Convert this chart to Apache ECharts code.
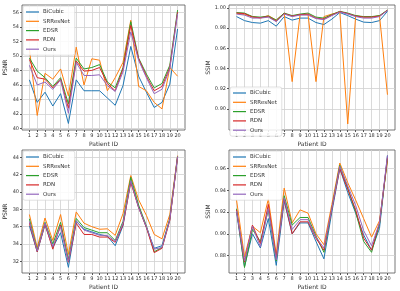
<!DOCTYPE html>
<html>
<head>
<meta charset="utf-8">
<script src="https://cdn.jsdelivr.net/npm/echarts@6/dist/echarts.min.js"></script>
<style>
  html, body { margin: 0; padding: 0; background: #fff; }
  #chart { width: 400px; height: 291px; }
</style>
</head>
<body>
<div id="chart"></div>
<script>
// 病人编号
const patients = [1, 2, 3, 4, 5, 6, 7, 8, 9, 10, 11, 12, 13, 14, 15, 16, 17, 18, 19, 20];
const methods = ['BiCubic', 'SRResNet', 'EDSR', 'RDN', 'Ours'];
const colors = ['#1f77b4', '#ff7f0e', '#2ca02c', '#d62728', '#9467bd'];

// 左上 PSNR
const psnrA_bicubic = [46.7, 43.6, 45.0, 43.1, 44.8, 40.7, 46.7, 45.2, 45.2, 45.2, 44.2, 43.2, 45.9, 51.3, 47.2, 45.0, 42.9, 43.6, 46.1, 53.7];
const psnrA_srresnet = [51.0, 41.8, 47.6, 46.8, 48.2, 44.5, 51.2, 46.0, 49.6, 49.4, 45.2, 47.0, 49.1, 54.9, 45.8, 45.2, 43.6, 42.7, 48.4, 47.2];
const psnrA_edsr = [49.7, 47.9, 47.0, 45.8, 47.0, 43.4, 49.7, 48.2, 48.4, 48.8, 46.4, 45.6, 48.4, 54.7, 49.7, 47.5, 45.6, 46.2, 48.7, 56.3];
const psnrA_rdn = [49.5, 47.0, 46.8, 45.6, 46.8, 42.8, 49.3, 47.9, 48.0, 48.4, 46.2, 45.2, 48.2, 54.2, 49.6, 47.2, 45.2, 45.8, 48.4, 56.0];
const psnrA_ours = [48.7, 46.0, 46.4, 45.4, 46.7, 42.1, 49.1, 47.3, 47.3, 47.4, 45.9, 45.1, 47.8, 53.3, 49.4, 47.0, 44.8, 45.4, 48.2, 55.8];

// 右上 SSIM
const ssimA_bicubic = [0.9915, 0.9875, 0.9856, 0.985, 0.9875, 0.982, 0.9915, 0.988, 0.990, 0.990, 0.9856, 0.9836, 0.989, 0.9955, 0.9925, 0.989, 0.986, 0.9856, 0.9875, 0.9967];
const ssimA_srresnet = [0.9948, 0.9935, 0.9915, 0.990, 0.9925, 0.988, 0.9948, 0.927, 0.9935, 0.9935, 0.927, 0.9915, 0.994, 0.996, 0.885, 0.9925, 0.991, 0.991, 0.9925, 0.914];
const ssimA_edsr = [0.9955, 0.995, 0.9915, 0.991, 0.992, 0.988, 0.995, 0.9925, 0.994, 0.995, 0.991, 0.990, 0.9935, 0.9967, 0.995, 0.9925, 0.9915, 0.9915, 0.9925, 0.998];
const ssimA_rdn = [0.995, 0.9945, 0.991, 0.9905, 0.9915, 0.987, 0.9945, 0.992, 0.9935, 0.994, 0.990, 0.989, 0.993, 0.9965, 0.9945, 0.992, 0.991, 0.991, 0.992, 0.9978];
const ssimA_ours = [0.994, 0.993, 0.990, 0.990, 0.991, 0.9865, 0.994, 0.9915, 0.993, 0.993, 0.9895, 0.9885, 0.9925, 0.996, 0.994, 0.9915, 0.990, 0.990, 0.9915, 0.9975];

// 左下 PSNR
const psnrB_bicubic = [36.1, 33.1, 36.2, 33.6, 35.3, 31.3, 36.6, 35.7, 35.4, 35.1, 34.9, 33.8, 36.1, 41.3, 38.3, 35.9, 33.5, 33.8, 36.9, 44.1];
const psnrB_srresnet = [37.4, 33.6, 37.0, 34.4, 37.4, 32.8, 37.7, 36.4, 36.0, 35.7, 35.75, 35.0, 37.5, 41.9, 39.1, 37.3, 35.1, 34.6, 37.4, 44.2];
const psnrB_edsr = [36.9, 33.3, 36.5, 34.0, 36.5, 32.2, 36.95, 35.9, 35.6, 35.3, 35.3, 34.4, 36.6, 41.7, 38.5, 36.1, 33.1, 33.6, 36.9, 44.1];
const psnrB_rdn = [36.4, 33.1, 36.3, 33.4, 36.2, 31.9, 36.4, 35.1, 35.1, 34.8, 34.8, 34.2, 36.2, 41.1, 38.2, 35.9, 33.0, 33.5, 36.7, 44.0];
const psnrB_ours = [36.6, 33.2, 36.4, 33.7, 36.0, 32.0, 36.7, 35.6, 35.3, 35.0, 35.0, 34.3, 36.4, 41.3, 38.2, 36.0, 33.4, 33.6, 36.8, 44.1];

// 右下 SSIM
const ssimB_bicubic = [0.920, 0.870, 0.900, 0.887, 0.914, 0.871, 0.930, 0.900, 0.910, 0.910, 0.893, 0.877, 0.920, 0.960, 0.938, 0.919, 0.899, 0.885, 0.905, 0.972];
const ssimB_srresnet = [0.931, 0.879, 0.907, 0.901, 0.932, 0.881, 0.942, 0.910, 0.922, 0.919, 0.900, 0.890, 0.927, 0.965, 0.947, 0.931, 0.914, 0.897, 0.912, 0.967];
const ssimB_edsr = [0.923, 0.869, 0.904, 0.893, 0.922, 0.875, 0.935, 0.908, 0.915, 0.915, 0.898, 0.883, 0.923, 0.963, 0.942, 0.920, 0.893, 0.883, 0.909, 0.969];
const ssimB_rdn = [0.922, 0.874, 0.908, 0.891, 0.927, 0.878, 0.932, 0.900, 0.911, 0.911, 0.896, 0.885, 0.923, 0.960, 0.941, 0.922, 0.896, 0.885, 0.910, 0.970];
const ssimB_ours = [0.921, 0.875, 0.907, 0.888, 0.923, 0.876, 0.933, 0.904, 0.913, 0.913, 0.897, 0.887, 0.923, 0.962, 0.944, 0.926, 0.903, 0.889, 0.910, 0.972];

// 刻度
const ticksPsnrA = [40, 42, 44, 46, 48, 50, 52, 54, 56];
const ticksSsimA = [0.90, 0.92, 0.94, 0.96, 0.98, 1.00];
const ticksPsnrB = [32, 34, 36, 38, 40, 42, 44];
const ticksSsimB = [0.88, 0.90, 0.92, 0.94, 0.96];

const panels = [
  { grid: { left: 22, top: 5, width: 163, height: 125 }, name: 'PSNR', min: 39.8, max: 57.0, ticks: ticksPsnrA, digits: 0,
    data: [psnrA_bicubic, psnrA_srresnet, psnrA_edsr, psnrA_rdn, psnrA_ours], legend: { left: 23, top: 6 } },
  { grid: { left: 229, top: 5, width: 166, height: 125 }, name: 'SSIM', min: 0.879, max: 1.003, ticks: ticksSsimA, digits: 2,
    data: [ssimA_bicubic, ssimA_srresnet, ssimA_edsr, ssimA_rdn, ssimA_ours], legend: { left: 230, top: 87 } },
  { grid: { left: 22, top: 150, width: 163, height: 123 }, name: 'PSNR', min: 30.65, max: 44.85, ticks: ticksPsnrB, digits: 0,
    data: [psnrB_bicubic, psnrB_srresnet, psnrB_edsr, psnrB_rdn, psnrB_ours], legend: { left: 23, top: 151 } },
  { grid: { left: 229, top: 150, width: 166, height: 123 }, name: 'SSIM', min: 0.864, max: 0.977, ticks: ticksSsimB, digits: 2,
    data: [ssimB_bicubic, ssimB_srresnet, ssimB_edsr, ssimB_rdn, ssimB_ours], legend: { left: 230, top: 151 } },
];

const font = 'DejaVu Sans';
const grids = [];
const xAxes = [];
const yAxes = [];
const series = [];
const legends = [];

panels.forEach((p, i) => {
  grids.push({ ...p.grid, show: true, borderColor: '#555', borderWidth: 0.8, backgroundColor: '#fff' });
  xAxes.push({
    type: 'value',
    gridIndex: i,
    min: 0.05,
    max: 20.95,
    name: 'Patient ID',
    nameLocation: 'middle',
    nameGap: 11,
    nameTextStyle: { fontSize: 6, color: '#333', fontFamily: font },
    axisLine: { show: false },
    axisTick: { show: true, customValues: patients, length: 2, lineStyle: { color: '#555' } },
    axisLabel: { customValues: patients, fontSize: 5, color: '#333', margin: 3, fontFamily: font },
    splitLine: { show: true, lineStyle: { color: '#d0d0d0', width: 0.8 } },
  });
  yAxes.push({
    type: 'value',
    gridIndex: i,
    min: p.min,
    max: p.max,
    name: p.name,
    nameLocation: 'middle',
    nameGap: p.digits ? 15 : 9,
    nameTextStyle: { fontSize: 6, color: '#333', fontFamily: font },
    axisLine: { show: false },
    axisTick: { show: true, customValues: p.ticks, length: 2, lineStyle: { color: '#555' } },
    axisLabel: {
      customValues: p.ticks,
      fontSize: 5,
      color: '#333',
      margin: 3,
      fontFamily: font,
      formatter: v => v.toFixed(p.digits),
    },
    splitLine: { show: true, lineStyle: { color: '#d0d0d0', width: 0.8 } },
  });
  const ids = [];
  methods.forEach((m, k) => {
    const id = m + '_' + i;
    ids.push({ name: id, icon: 'rect' });
    series.push({
      id: id,
      name: id,
      type: 'line',
      xAxisIndex: i,
      yAxisIndex: i,
      data: patients.map((pid, j) => [pid, p.data[k][j]]),
      symbol: 'none',
      lineStyle: { width: 1, color: colors[k] },
      itemStyle: { color: colors[k] },
      z: 2 + k,
      animation: false,
    });
  });
  legends.push({
    ...p.legend,
    orient: 'vertical',
    data: ids,
    itemWidth: 13,
    itemHeight: 1.2,
    itemGap: 3.3,
    padding: [3, 5, 3, 3],
    backgroundColor: 'rgba(255,255,255,0.85)',
    borderColor: '#ccc',
    borderWidth: 0.6,
    borderRadius: 2,
    selectedMode: false,
    formatter: n => n.split('_')[0],
    textStyle: { fontSize: 5.5, color: '#333', fontFamily: font, padding: [0, 0, 0, -1] },
  });
});

const myChart = echarts.init(document.getElementById('chart'));
myChart.setOption({
  animation: false,
  backgroundColor: '#fff',
  grid: grids,
  xAxis: xAxes,
  yAxis: yAxes,
  legend: legends,
  series: series,
});
</script>
</body>
</html>
